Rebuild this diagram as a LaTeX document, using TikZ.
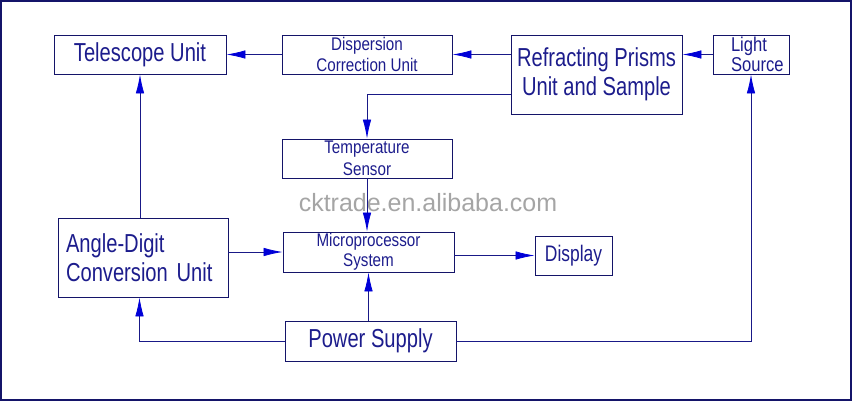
\documentclass[tikz,border=0pt]{standalone}
\usepackage{fontspec}
\setmainfont{Liberation Sans}
\newfontfamily\bigf{Liberation Sans}[FakeStretch=0.775]
\newfontfamily\smallf{Liberation Sans}[FakeStretch=0.83]
\usetikzlibrary{arrows.meta}
\definecolor{boxnavy}{RGB}{20,20,105}
\definecolor{txtnavy}{RGB}{28,28,140}
\definecolor{linenavy}{RGB}{25,25,135}
\definecolor{tipblue}{RGB}{0,0,215}
\definecolor{wmgray}{RGB}{165,165,165}
\begin{document}
\begin{tikzpicture}[x=1pt,y=-1pt,
  box/.style={draw=boxnavy, line width=0.9pt, inner sep=0pt, text=txtnavy, align=center},
  bigtxt/.style={font=\bigf\fontsize{26}{29.5}\selectfont},
  midtxt/.style={font=\bigf\fontsize{22.5}{26}\selectfont},
  smalltxt/.style={font=\smallf\fontsize{18.3}{21.5}\selectfont},
  conn/.style={draw=linenavy, line width=0.8pt},
  arr/.style={conn, -{Latex[length=19pt,width=8.5pt,color=tipblue]}}
]
\useasboundingbox (0,0) rectangle (853,402);
\draw[draw=boxnavy, line width=1.4pt] (1,1) rectangle (851,400);

\node[wmgray, font=\fontsize{25}{28}\selectfont] (wm) at (428,203) {cktrade.en.alibaba.com};

\node[box, bigtxt, minimum width=172pt, minimum height=39pt] (tel) at (140,54.5) {Telescope Unit};
\node[box, smalltxt, minimum width=170pt, minimum height=39pt] (disp) at (367,54.5) {Dispersion\\Correction Unit};
\node[box, bigtxt, minimum width=171pt, minimum height=79pt] (refr) at (596.5,74.5) {Refracting Prisms\\Unit and Sample};
\node[box, font=\smallf\fontsize{20}{20}\selectfont, text width=72pt, inner xsep=2pt, align=left, minimum height=39pt] (light) at (751,54.5) {\hspace*{16pt}Light\\\hspace*{16pt}Source};
\node[box, smalltxt, minimum width=170pt, minimum height=39pt] (temp) at (367,158.5) {Temperature\\Sensor};
\node[box, bigtxt, text width=154pt, inner xsep=8pt, align=left, minimum height=79pt] (angle) at (143,257.5) {Angle-Digit\\Conversion Unit};
\node[box, font=\smallf\fontsize{18.3}{19.5}\selectfont, minimum width=171pt, minimum height=40pt] (micro) at (368.5,252) {Microprocessor\\System};
\node[box, midtxt, minimum width=77pt, minimum height=39pt] (show) at (573.5,255.5) {Display};
\node[box, bigtxt, minimum width=171pt, minimum height=40pt] (power) at (370.5,341) {Power Supply};

\coordinate (colL) at (139.5,0);

\draw[arr] (disp.west) -- (tel.east);
\draw[arr] (refr.west |- disp.east) -- (disp.east);
\draw[arr] (light.west) -- (light.west -| refr.east);
\draw[arr] ([yshift=-19.5pt]refr.west) -| (temp.north);
\draw[arr] (temp.south) -- (temp.south |- micro.north);
\draw[arr] (tel.south |- angle.north) -- (tel.south);
\draw[arr] (micro.west -| angle.east) -- (micro.west);
\draw[arr] (show.west -| micro.east) -- (show.west);
\draw[arr] (micro.south |- power.north) -- (micro.south);
\draw[arr] (power.west) -| (colL |- angle.south);
\draw[arr] (power.east) -| (light.south);
\end{tikzpicture}
\end{document}
